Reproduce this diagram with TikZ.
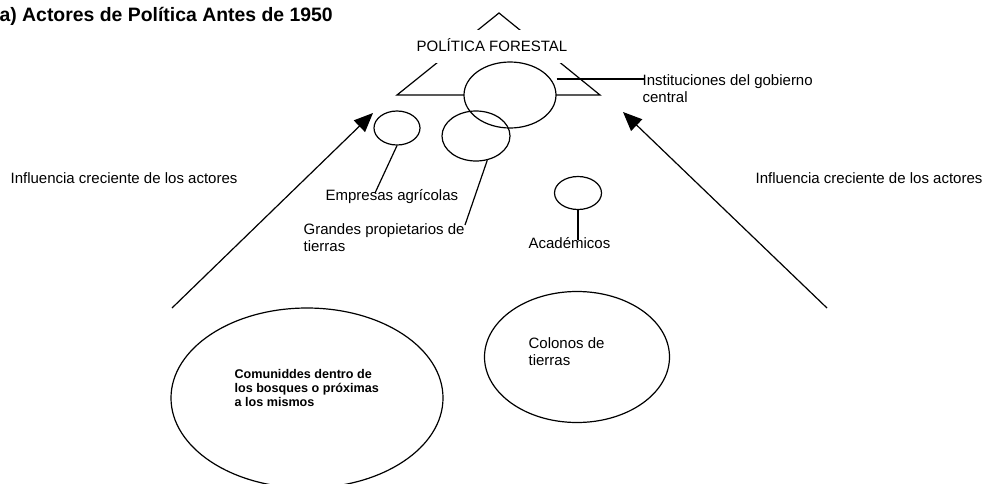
\documentclass[tikz,border=0pt]{standalone}
\usepackage{fontspec}
\setmainfont{Liberation Sans}
\usetikzlibrary{shapes.geometric,arrows.meta}
\newcommand\regfont{\fontsize{15}{17}\selectfont}
\newcommand\titfont{\fontsize{19.4}{22}\selectfont\bfseries}
\newcommand\smbfont{\fontsize{12.6}{13.6}\selectfont\bfseries}
\tikzset{
  lbl/.style={inner sep=0pt, font=\regfont, align=left, anchor=base west},
  oval/.style={ellipse, draw, inner sep=0pt},
  bigarrow/.style={-{Triangle[length=19pt,width=16pt]}},
}
\begin{document}
\begin{tikzpicture}[x=1pt,y=-1pt,line width=1.2pt]
\useasboundingbox (0,0) rectangle (982,483);
% title
\node[inner sep=0pt, anchor=base west, font=\titfont] (title) at (-1,21) {a) Actores de Política Antes de 1950};
% triangle
\coordinate (apex) at (499,13);
\coordinate (bl) at (397,95);
\coordinate (br) at (600,95);
\draw (apex) -- (bl) -- (br) -- cycle;
\node[fill=white, inner xsep=1pt, inner ysep=0pt, minimum height=33pt, text height=10.7pt, text depth=0pt, font=\regfont] (pf) at (492,46) {POLÍTICA FORESTAL};
% actors
\node[oval, fill=white, minimum width=92pt, minimum height=66pt] (gov) at (510,95) {};
\node[oval, minimum width=68pt, minimum height=50pt] (gr) at (476,136) {};
\node[oval, minimum width=46pt, minimum height=34pt] (emp) at (397,128) {};
\node[oval, minimum width=47pt, minimum height=33pt] (acad) at (578,193) {};
\node[oval, minimum width=272pt, minimum height=180pt] (com) at (307,398) {};
\node[oval, minimum width=185pt, minimum height=131pt] (col) at (577,357) {};
% labels and leaders
\node[lbl] (instit) at (642,102) {Instituciones del gobierno\\central};
\coordinate (ie) at (645,79);
\draw (gov.east |- ie) -- (ie);
\node[lbl] (empl) at (325,200) {Empresas agrícolas};
\coordinate (empend) at (375,193);
\draw (emp.south) -- (empend);
\node[lbl] (grl) at (303,251) {Grandes propietarios de\\tierras};
\coordinate (grend) at (465,225);
\draw (gr.-65) -- (grend);
\node[lbl] (acl) at (528,248) {Académicos};
\coordinate (acend) at (578,240);
\draw (acad.south) -- (acend);
\node[lbl] (coll) at (528,365) {Colonos de\\tierras};
\node[inner sep=0pt, anchor=base west, align=left, font=\smbfont] (coml) at (234,406) {Comuniddes dentro de\\los bosques o próximas\\a los mismos};
% influence arrows
\node[lbl] (infl) at (10,183) {Influencia creciente de los actores};
\node[lbl] (infr) at (755,183) {Influencia creciente de los actores};
\coordinate (la) at (172,308);
\coordinate (lt) at (373,113);
\coordinate (ra) at (827,308);
\coordinate (rt) at (623,112);
\draw[bigarrow] (la) -- (lt);
\draw[bigarrow] (ra) -- (rt);
\end{tikzpicture}
\end{document}
